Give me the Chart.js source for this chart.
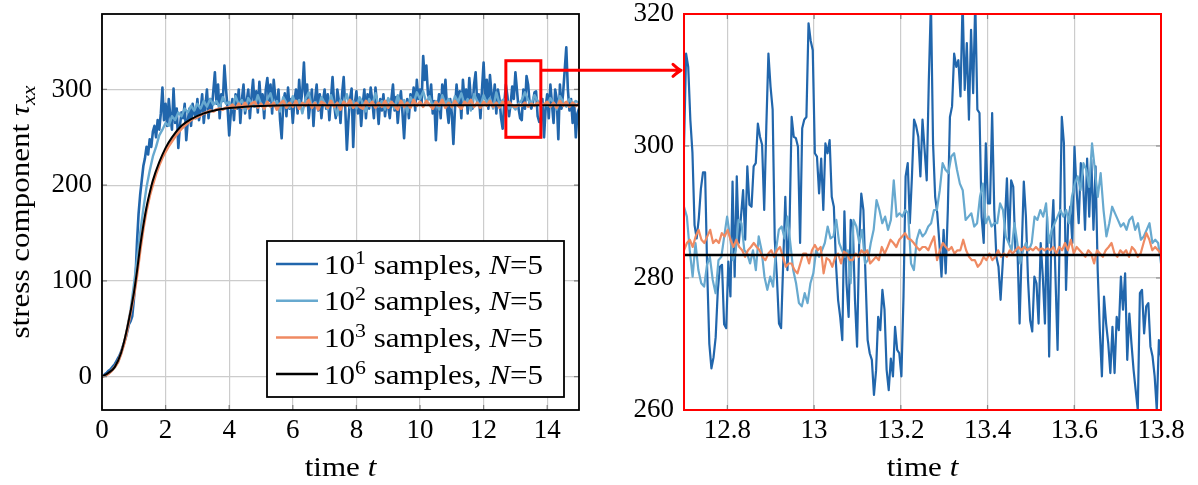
<!DOCTYPE html>
<html>
<head>
<meta charset="utf-8">
<title>stress component convergence</title>
<script src="https://cdn.jsdelivr.net/npm/chart.js@4.4.1/dist/chart.umd.min.js"></script>
<style>
  html, body { margin: 0; background: #fff; }
  #wrap { position: relative; width: 1198px; height: 485px; }
  canvas { position: absolute; top: 0; }
  #overview { left: 0; }
  #detail { left: 530px; }
</style>
</head>
<body>
<div id="wrap">
  <canvas id="overview" width="600" height="485"></canvas>
  <canvas id="detail" width="668" height="485"></canvas>
</div>
<script>
// ---- data -------------------------------------------------------------
const sampleExponents = ['1', '2', '3', '6'];
const seriesColors = ['#2166ac', '#67a9cf', '#ef8a62', '#000000'];

// 10^6 samples (converged reference curve)
const convergedTime = [0, 0.2, 0.4, 0.6, 0.8, 1.0, 1.1, 1.2, 1.3, 1.4, 1.5, 1.6, 1.8, 2.0, 2.2,
  2.5, 2.8, 3.2, 3.6, 4.0, 4.5, 5, 6, 8, 10, 12, 15];
const convergedTau = [0, 4, 10, 25, 52, 87, 110, 136, 158, 177, 192, 205, 224, 239, 250,
  262, 269, 275, 278.5, 280.5, 282, 282.8, 283.4, 283.5, 283.5, 283.5, 283.5];

// 10^1 samples, every 0.05 time units
const step10 = 0.05;
const tau10 = [
  0, 1, 3, 4, 6, 7, 9, 11, 13, 16, 19, 22, 26, 31, 36, 41, 48, 55, 58, 63,
  80, 100, 140, 170, 190, 205, 220, 228, 240, 232, 248, 240, 256, 262, 250, 268, 258, 275, 302, 268,
  285, 262, 290, 272, 258, 301, 265, 280, 239, 262, 276, 270, 285, 247, 268, 280, 262, 285, 275, 270,
  290, 268, 278, 295, 265, 282, 300, 270, 290, 278, 298, 318, 285, 305, 270, 295, 288, 325, 300, 280,
  252, 275, 290, 268, 295, 280, 300, 265, 290, 305, 275, 288, 300, 270, 292, 310, 282, 298, 276, 308,
  285, 295, 270, 300, 312, 288, 305, 275, 310, 292, 280, 300, 268, 249, 285, 296, 272, 302, 280, 290,
  265, 288, 300, 275, 310, 285, 298, 328, 290, 305, 270, 285, 300, 262, 290, 305, 278, 295, 270, 288,
  300, 280, 295, 268, 290, 313, 285, 270, 300, 288, 265, 295, 313, 280, 237, 268, 290, 301, 240, 285,
  298, 275, 290, 262, 285, 300, 270, 295, 280, 302, 288, 270, 302, 285, 264, 290, 278, 295, 272, 288,
  282, 270, 290, 305, 278, 292, 265, 285, 298, 275, 249, 280, 290, 270, 295, 285, 302, 278, 310, 290,
  300, 285, 335, 310, 325, 295, 290, 305, 275, 288, 247, 280, 295, 270, 305, 288, 310, 280, 265, 290,
  275, 243, 280, 305, 285, 298, 270, 310, 288, 300, 275, 312, 290, 280, 305, 318, 285, 295, 270, 300,
  328, 290, 310, 280, 315, 295, 285, 305, 275, 300, 290, 270, 259, 285, 305, 293, 272, 285, 303, 290,
  318, 299, 280, 270, 268, 300, 280, 314, 305, 285, 280, 286, 297, 298, 272, 266, 268, 290, 250, 280,
  295, 270, 305, 285, 265, 300, 290, 248, 305, 280, 296, 320, 344, 300, 278, 290, 265, 285, 250, 275,
  280
];

// 10^2 and 10^3 samples, every 0.1 time units
const step100 = 0.1;
const tau100 = [
  0, 1, 3, 6, 10, 15, 24, 36, 52, 70,
  95, 122, 150, 175, 198, 215, 230, 240, 252, 258,
  265, 262, 272, 268, 276, 272, 280, 276, 283, 278,
  285, 280, 288, 282, 290, 284, 288, 281, 292, 285,
  287, 280, 293, 284, 289, 278, 291, 286, 282, 294,
  285, 279, 290, 296, 283, 288, 277, 292, 286, 281,
  293, 284, 289, 275, 290, 297, 282, 287, 280, 292,
  286, 279, 294, 283, 273, 289, 285, 295, 281, 288,
  280, 292, 286, 277, 290, 284, 296, 282, 288, 279,
  291, 285, 280, 294, 283, 289, 276, 292, 286, 297,
  290, 298, 286, 293, 282, 288, 279, 294, 285, 290,
  281, 293, 287, 296, 284, 290, 278, 295, 288, 283,
  294, 286, 291, 280, 297, 285, 289, 290, 280, 283,
  279, 285, 289, 297, 289, 285, 294, 288, 286, 284,
  283, 291, 286, 279, 293, 287, 282, 290, 285, 288,
  286
];
const tau1000 = [
  0, 1, 3, 6, 10, 15, 24, 35, 50, 67,
  84, 106, 132, 155, 174, 189, 201, 212, 221, 229,
  235, 241, 246, 251, 255, 259, 262, 265, 268, 270,
  271, 273, 275, 276, 278, 277, 279, 280, 279, 281,
  281, 284, 280, 285, 281, 286, 280, 285, 287, 281,
  285, 280, 287, 282, 286, 279, 285, 288, 281, 286,
  282, 288, 280, 286, 283, 289, 281, 286, 279, 287,
  285, 281, 288, 282, 286, 279, 287, 283, 289, 281,
  286, 282, 280, 288, 283, 287, 281, 286, 282, 288,
  281, 287, 283, 279, 288, 282, 286, 281, 289, 283,
  287, 282, 288, 284, 280, 287, 283, 289, 281, 286,
  282, 288, 283, 280, 287, 284, 289, 282, 286, 281,
  287, 283, 288, 282, 286, 281, 287, 283, 287, 283,
  282, 284, 283, 286, 282, 285, 283, 286, 283, 284,
  287, 282, 286, 281, 288, 283, 287, 282, 286, 283,
  285
];

// finely sampled values inside the zoom window
const zoomWindowT = [12.7, 13.8];
const zoomWindowTau = [250, 330];
const detail10 = [
  300, 314, 312, 304, 299, 288, 286, 289, 293.5, 296, 296, 281, 270, 266.3, 268, 271, 278, 281.7, 282,
  273, 272.4, 282.5, 277.2, 294.6, 280.2, 295.4, 285.3, 289.3, 293.3, 285.8, 296.9, 291.1, 290.8,
  296.9, 297.4, 303.4, 301.4, 300.2, 290.3, 302.9, 314, 309, 305.5, 285.8, 280.2, 273.1, 272.4,
  282.2, 292.3, 281.2, 287.8, 304.4, 301.4, 301.2, 299.9, 285.3,
  302.7, 304, 304.4, 318.6, 316, 314.5, 298.9, 298.4, 292.8, 298.1, 290.3, 300.4, 298.9, 300.9,
  292.3, 290.8, 282.2, 276.7, 274.1, 270.6, 290.1, 279.2, 274.1, 288.8, 287.8, 276.7, 269.6, 285.3,
  292.8, 290.3, 280.2, 270.6, 268.6, 267.6, 262.3, 266, 274.1, 272.1, 278.2, 275.2, 266.1, 263,
  267.8, 265.1, 272.6, 269.1, 268.6, 265.1, 277.2, 295.4, 297.4, 288.3, 295.4, 304, 303, 301.4, 295.4,
  304, 299.4, 294.8, 310, 322, 300.4, 292.3, 289.8, 285.3, 280.2, 287.3, 280.7, 290.3, 304.4, 306,
  314, 312, 313, 307.5, 322, 308.5, 315.6, 304, 317.6, 308, 322, 305.5, 305, 289.3, 285.3, 300.4,
  291.3, 291.3, 305, 290.3, 283.2, 281.7, 276.7, 282.2, 288.3, 295.1, 285.3, 294.8, 293.8, 284.2,
  284.2, 273.1, 284.2, 294.6, 289.3, 279.7, 273.6, 271.9, 280.2, 279.2, 273.1, 285.3,
  280.2, 273.1, 289.3, 268.1, 285.3, 291.8, 280.2, 269.1, 286.3, 304.4, 300.4, 278.2, 288.3, 290.8,
  285.3, 299.9, 293.3, 288.3, 297.4, 295.4, 287.3, 298.1, 289.3, 297.9, 287.3, 296.9, 281.2, 272.1,
  265.1, 277.2, 273.1, 270.1, 265.6, 272.6, 265.6, 274.1, 272.1, 280.2, 275.2, 280.7, 267.6, 274.6,
  270.1, 266.1, 263, 260, 277.7, 278.2, 271.6, 275.7, 276.2, 269.6, 268.1, 265.1, 260, 270.6, 268.1
];
const detail100 = [
  290.8, 289.3, 284.2, 280.2, 285.3, 281.2, 279.2, 278.7, 282, 283.2, 279.7, 277.7, 282.7, 283.2,
  286.3, 289.3, 286.3, 282.7, 284.2, 288.8, 288.3, 284.2, 283.7, 282.2, 284.2, 281.2, 286.3, 284.2,
  280.2, 278.2, 280.2, 278.7, 284.2, 287.3, 287.8, 286, 289.3, 285.3, 281.2, 279.2, 276.2, 275.7,
  277.7, 276.2, 279.2, 280.7, 284.2, 283.2, 284.2, 285.3, 287.8, 286, 286.3, 288.8, 285.3, 284.2,
  283.2, 284.2, 279.2, 288.8, 287.8, 285.3, 287.3, 282.2, 282.7, 285.3, 287.3, 291.8, 290.3, 288.3,
  289.3, 287.3, 288.8, 294.8, 289.3, 289.8, 289.3, 290.3, 289.8, 282.2, 281.2, 285.8, 287.3,
  286.3, 286.8, 287.8, 288.3, 290.3, 290.3, 293.3, 297.4, 296.4, 295.9, 298.4, 298.9, 296.4, 294.3,
  293.3, 288.8, 289.3, 289.8, 287.8, 288.3, 292.3, 294.3, 288.3, 289.3, 287.8, 288.3, 288.3, 291.3,
  290.3, 286.3, 285.3, 284.2, 288.3, 285.3, 282.2, 284.2, 285.3, 284.2, 285.3, 289.3, 288.8, 290.3,
  289.3, 291.3, 285.3, 287.3, 288.3, 289.3, 290.3, 289.3, 290.3, 288.3, 292.3, 294.3, 295.4, 293.3,
  297.4, 296.4, 293.8, 300.4, 296.4, 292.3, 295.9, 290.3, 286.3, 288.3, 290.8, 289.8, 288.8, 287.8,
  288.3, 287.3, 288.8, 289.3, 287.3, 288.3, 285.8, 286.3, 287.3, 288.3, 285.3, 285.8, 285.3, 282.2
];
const detail1000 = [
  284.2, 285.3, 285.8, 284.7, 286.3, 287.3, 285.8, 285.3, 286.3, 287.3, 285.3, 285.8, 285.3, 286.8,
  286.3, 287.3, 285.8, 284.7, 285.8, 284.7, 284.2, 283.2, 284.2, 284.7, 285.3, 284.7, 284.2, 283.2,
  282.7, 283.7, 284.2, 283.2, 284.2, 284.7, 283.2, 281.7, 282.2, 282.2, 281.2, 280.7, 282.2, 283.7,
  283.7, 282.2, 284.2, 285, 284.2, 284.7, 280.7, 283, 282.7, 281.7, 283.2, 283.7, 282.2, 284, 283.7,
  282.7, 282.7, 283.7, 283.2, 284.2, 283.7, 284.2, 282.2, 282.7, 283.2, 282.7, 284.7, 283.7, 284.7,
  285.8, 285.3, 284.7, 285.8, 286.3, 286.8, 286, 285.8, 285.3, 284.7, 284.2, 284.7,
  284.7, 284.2, 285.3, 286.3, 282.7, 284.2, 285.3, 284.7, 284.2, 284.7, 283.7, 284.2, 284.2, 285.8,
  284.2, 283.2, 282.7, 282.7, 281.7, 282.2, 283.2, 282.7, 283.7, 282.7, 283.2, 284.2, 283.2, 283.7,
  283.2, 284.2, 283.7, 284.2, 284.7, 284.2, 284.7, 284.2, 284.5, 284.2, 284.7, 284.2, 284.5, 284.2,
  284.5, 284.2, 284.7, 283.7, 284.7, 284.2, 285.3, 284.2, 285.8, 283.7, 284.7, 284.2, 283.7, 283.2,
  284.2, 283.7, 282.2, 284.2, 283.7, 283.2, 284.2, 284.7, 285.3, 283.7, 283.2, 284.2, 283.7, 284.2,
  283.2, 284.7, 284.2, 283.2, 283.7, 285.3, 286.8, 285.8, 284.2, 284.7, 284.2, 283.7
];

// axes
const overviewTRange = [0, 15];
const overviewTauRange = [-34.8, 378.8];
const overviewTTicks = [0, 2, 4, 6, 8, 10, 12, 14];
const overviewTauTicks = [0, 100, 200, 300];
const detailTauRange = [260, 320];
const detailTTicks = [12.8, 13, 13.2, 13.4, 13.6, 13.8];
const detailTauTicks = [260, 280, 300, 320];
const arrowTau = 320;

// ---- helpers ----------------------------------------------------------
const serif = "'Liberation Serif', 'Times New Roman', serif";
const fontSize = 27;
const stretch = 1.15; // widen the text a bit, closer to the TeX look

function stepped(values, step) {
  return values.map((v, i) => ({ x: i * step, y: v }));
}
function spread(values, range) {
  const n = values.length - 1;
  return values.map((v, i) => ({ x: range[0] + (range[1] - range[0]) * i / n, y: v }));
}
function paired(ts, vs) {
  return ts.map((t, i) => ({ x: t, y: vs[i] }));
}

function partFont(p, size) {
  const s = (p.sub || p.sup) ? Math.round(size * 0.7) : size;
  return (p.it ? 'italic ' : '') + s + 'px ' + serif;
}
function richWidth(ctx, parts, size) {
  let w = 0;
  for (const p of parts) { ctx.font = partFont(p, size); w += ctx.measureText(p.t).width; }
  return w * stretch;
}
// draws mixed upright/italic/sub/superscript text along a baseline
function drawRich(ctx, parts, x, y, size, align) {
  let cx = align === 'center' ? x - richWidth(ctx, parts, size) / 2 : x;
  ctx.save();
  ctx.fillStyle = '#000';
  ctx.textBaseline = 'alphabetic';
  ctx.textAlign = 'left';
  for (const p of parts) {
    ctx.font = partFont(p, size);
    const dy = p.sub ? size * 0.22 : p.sup ? -size * 0.37 : 0;
    ctx.save();
    ctx.translate(cx, y + dy);
    ctx.scale(stretch, 1);
    ctx.fillText(p.t, 0, 0);
    ctx.restore();
    cx += ctx.measureText(p.t).width * stretch;
  }
  ctx.restore();
}

function axis(range, ticks, thickness, horizontal) {
  return {
    type: 'linear',
    min: range[0],
    max: range[1],
    afterBuildTicks: s => { s.ticks = ticks.map(v => ({ value: v })); },
    afterFit: s => {
      if (horizontal) { s.height = thickness; s.paddingLeft = 0; s.paddingRight = 0; }
      else { s.width = thickness; s.paddingTop = 0; s.paddingBottom = 0; }
    },
    grid: { color: '#cccccc', lineWidth: 1.2, drawTicks: false },
    border: { display: false },
    ticks: {
      color: '#000',
      font: { family: serif, size: fontSize },
      padding: horizontal ? 5 : 10,
      maxRotation: 0,
      autoSkip: false,
      callback: v => String(v)
    }
  };
}

function line(points, i, width) {
  return {
    label: '10^' + sampleExponents[i] + ' samples, N=5',
    data: points,
    borderColor: seriesColors[i],
    borderWidth: width,
    borderJoinStyle: 'round',
    pointRadius: 0,
    tension: 0,
    clip: 0,
    order: 3 - i
  };
}

// frame, inner tick marks and axis titles
const framePlugin = {
  id: 'frame',
  afterDatasetsDraw(chart, args, opts) {
    const { ctx, chartArea: a, scales: { x, y } } = chart;
    ctx.save();
    ctx.strokeStyle = '#808080';
    ctx.lineWidth = 1.2;
    ctx.beginPath();
    for (const t of x.ticks) {
      const px = x.getPixelForValue(t.value);
      ctx.moveTo(px, a.bottom); ctx.lineTo(px, a.bottom - 5);
      ctx.moveTo(px, a.top); ctx.lineTo(px, a.top + 5);
    }
    for (const t of y.ticks) {
      const py = y.getPixelForValue(t.value);
      ctx.moveTo(a.left, py); ctx.lineTo(a.left + 5, py);
      ctx.moveTo(a.right, py); ctx.lineTo(a.right - 5, py);
    }
    ctx.stroke();
    ctx.strokeStyle = opts.color;
    ctx.lineWidth = opts.width;
    ctx.strokeRect(a.left, a.top, a.right - a.left, a.bottom - a.top);
    ctx.restore();
  },
  afterDraw(chart, args, opts) {
    const { ctx, chartArea: a } = chart;
    const timeTitle = [{ t: 'time ' }, { t: 't', it: true }];
    drawRich(ctx, timeTitle, (a.left + a.right) / 2, a.bottom + 66, fontSize, 'center');
    if (opts.yTitle) {
      ctx.save();
      ctx.translate(29, (a.top + a.bottom) / 2);
      ctx.rotate(-Math.PI / 2);
      drawRich(ctx, opts.yTitle, 0, 0, fontSize, 'center');
      ctx.restore();
    }
  }
};

// zoom window marker and legend on the overview
const overviewExtras = {
  id: 'overviewExtras',
  afterDraw(chart) {
    const { ctx, chartArea: a, scales: { x, y } } = chart;
    ctx.save();
    ctx.strokeStyle = '#ff0000';
    ctx.lineWidth = 3;
    const x0 = x.getPixelForValue(zoomWindowT[0]), x1 = x.getPixelForValue(zoomWindowT[1]);
    const y0 = y.getPixelForValue(zoomWindowTau[1]), y1 = y.getPixelForValue(zoomWindowTau[0]);
    ctx.strokeRect(x0, y0, x1 - x0, y1 - y0);

    const bw = 297, bh = 156;
    const bx = a.right - 15 - bw, by = a.bottom - 13 - bh;
    ctx.fillStyle = '#fff';
    ctx.fillRect(bx, by, bw, bh);
    ctx.strokeStyle = '#000';
    ctx.lineWidth = 1.8;
    ctx.strokeRect(bx, by, bw, bh);
    chart.data.datasets.forEach((ds, i) => {
      const cy = by + 23 + i * 36.7;
      ctx.strokeStyle = ds.borderColor;
      ctx.lineWidth = 2.5;
      ctx.beginPath();
      ctx.moveTo(bx + 9, cy);
      ctx.lineTo(bx + 51, cy);
      ctx.stroke();
      drawRich(ctx, [
        { t: '10' }, { t: sampleExponents[i], sup: true }, { t: ' samples, ' },
        { t: 'N', it: true }, { t: '=5' }
      ], bx + 57, cy + 9.5, fontSize, 'left');
    });
    ctx.restore();
  }
};

// ---- overview chart ---------------------------------------------------
const overviewCanvas = document.getElementById('overview');
const overviewChart = new Chart(overviewCanvas, {
  type: 'line',
  data: {
    datasets: [
      line(stepped(tau10, step10), 0, 2.6),
      line(stepped(tau100, step100), 1, 2.4),
      line(stepped(tau1000, step100), 2, 2.8),
      Object.assign(line(paired(convergedTime, convergedTau), 3, 2), { cubicInterpolationMode: 'monotone' })
    ]
  },
  options: {
    responsive: false,
    animation: false,
    events: [],
    layout: { padding: { top: 14, right: 21, bottom: 0, left: 0 } },
    scales: {
      x: axis(overviewTRange, overviewTTicks, 75, true),
      y: axis(overviewTauRange, overviewTauTicks, 102, false)
    },
    plugins: {
      legend: { display: false },
      tooltip: { enabled: false },
      frame: {
        color: '#000', width: 1.8,
        yTitle: [{ t: 'stress component ' }, { t: 'τ', it: true }, { t: 'xx', it: true, sub: true }]
      }
    }
  },
  plugins: [framePlugin, overviewExtras]
});

// ---- detail chart -----------------------------------------------------
const detailCanvas = document.getElementById('detail');

// arrow from the zoom window to the detail panel
const arrowPlugin = {
  id: 'zoomArrow',
  afterDraw(chart) {
    const { ctx, chartArea: a } = chart;
    const shift = overviewCanvas.offsetLeft - detailCanvas.offsetLeft;
    const sx = overviewChart.scales.x.getPixelForValue(zoomWindowT[1]) + shift + 1.5;
    const sy = overviewChart.scales.y.getPixelForValue(arrowTau);
    const ex = a.left - 3;
    ctx.save();
    ctx.strokeStyle = '#ff0000';
    ctx.lineWidth = 3;
    ctx.lineCap = 'round';
    ctx.lineJoin = 'round';
    ctx.beginPath();
    ctx.moveTo(sx, sy);
    ctx.lineTo(ex, sy);
    ctx.moveTo(ex - 8, sy - 6);
    ctx.quadraticCurveTo(ex - 3, sy - 1.5, ex, sy);
    ctx.quadraticCurveTo(ex - 3, sy + 1.5, ex - 8, sy + 6);
    ctx.stroke();
    ctx.restore();
  }
};

new Chart(detailCanvas, {
  type: 'line',
  data: {
    datasets: [
      line(spread(detail10, zoomWindowT), 0, 2.2),
      line(spread(detail100, zoomWindowT), 1, 2.2),
      line(spread(detail1000, zoomWindowT), 2, 2.2),
      line(paired(convergedTime, convergedTau), 3, 2.5)
    ]
  },
  options: {
    responsive: false,
    animation: false,
    events: [],
    layout: { padding: { top: 14, right: 37, bottom: 0, left: 0 } },
    scales: {
      x: axis(zoomWindowT, detailTTicks, 75, true),
      y: axis(detailTauRange, detailTauTicks, 154, false)
    },
    plugins: {
      legend: { display: false },
      tooltip: { enabled: false },
      frame: { color: '#ff0000', width: 2 }
    }
  },
  plugins: [framePlugin, arrowPlugin]
});
</script>
</body>
</html>
